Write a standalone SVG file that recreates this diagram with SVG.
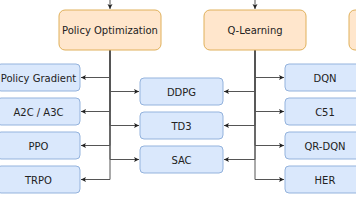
<svg xmlns="http://www.w3.org/2000/svg" width="356" height="200" viewBox="0 0 356 200">
  <style>
    .cat rect { fill: #ffe6cc; stroke: #e0b05a; stroke-width: 1; }
    .leaf rect { fill: #dae8fc; stroke: #94b3dd; stroke-width: 1; }
    text { font-family: "DejaVu Sans", Verdana, sans-serif; font-size: 10px; fill: #222; text-anchor: middle; dominant-baseline: central; }
    .edge { fill: none; stroke: #555; stroke-width: 1; marker-end: url(#arr); }
  </style>
  <defs>
    <marker id="arr" markerUnits="userSpaceOnUse" markerWidth="6" markerHeight="6" refX="5" refY="3" orient="auto">
      <path d="M0,0.5 L5,3 L0,5.5 L1.2,3 Z" fill="#222"/>
    </marker>
  </defs>
  <rect width="356" height="200" fill="#ffffff"/>

  <g id="connectors">
    <path class="edge" d="M110 0 V9"/>
    <path class="edge" d="M255 0 V9"/>
    <path class="edge" d="M110 50 V77.5 H81"/>
    <path class="edge" d="M110 50 V111.5 H81"/>
    <path class="edge" d="M110 50 V145.5 H81"/>
    <path class="edge" d="M110 50 V179.5 H81"/>
    <path class="edge" d="M110 50 V91.5 H139"/>
    <path class="edge" d="M110 50 V125.5 H139"/>
    <path class="edge" d="M110 50 V159.5 H139"/>
    <path class="edge" d="M255 50 V91.5 H224"/>
    <path class="edge" d="M255 50 V125.5 H224"/>
    <path class="edge" d="M255 50 V159.5 H224"/>
    <path class="edge" d="M255 50 V77.5 H284"/>
    <path class="edge" d="M255 50 V111.5 H284"/>
    <path class="edge" d="M255 50 V145.5 H284"/>
    <path class="edge" d="M255 50 V179.5 H284"/>
  </g>

  <g id="policy-optimization" class="cat">
    <rect x="59" y="10" width="102" height="40" rx="6"/>
    <text x="110" y="30.5">Policy Optimization</text>
  </g>
  <g id="q-learning" class="cat">
    <rect x="204" y="10" width="102" height="40" rx="6"/>
    <text x="255" y="30.5">Q-Learning</text>
  </g>
  <g id="third-category" class="cat">
    <rect x="349" y="10" width="102" height="40" rx="6"/>
  </g>

  <g id="policy-gradient" class="leaf">
    <rect x="-3" y="64" width="83" height="27" rx="4"/>
    <text x="38.5" y="78">Policy Gradient</text>
  </g>
  <g id="a2c-a3c" class="leaf">
    <rect x="-3" y="98" width="83" height="27" rx="4"/>
    <text x="38.5" y="112">A2C / A3C</text>
  </g>
  <g id="ppo" class="leaf">
    <rect x="-3" y="132" width="83" height="27" rx="4"/>
    <text x="38.5" y="146">PPO</text>
  </g>
  <g id="trpo" class="leaf">
    <rect x="-3" y="166" width="83" height="27" rx="4"/>
    <text x="38.5" y="180">TRPO</text>
  </g>

  <g id="ddpg" class="leaf">
    <rect x="140" y="78" width="83" height="27" rx="4"/>
    <text x="181.5" y="92">DDPG</text>
  </g>
  <g id="td3" class="leaf">
    <rect x="140" y="112" width="83" height="27" rx="4"/>
    <text x="181.5" y="126">TD3</text>
  </g>
  <g id="sac" class="leaf">
    <rect x="140" y="146" width="83" height="27" rx="4"/>
    <text x="181.5" y="160">SAC</text>
  </g>

  <g id="dqn" class="leaf">
    <rect x="285" y="64" width="83" height="27" rx="4"/>
    <text x="325" y="78">DQN</text>
  </g>
  <g id="c51" class="leaf">
    <rect x="285" y="98" width="83" height="27" rx="4"/>
    <text x="325" y="112">C51</text>
  </g>
  <g id="qr-dqn" class="leaf">
    <rect x="285" y="132" width="83" height="27" rx="4"/>
    <text x="325" y="146">QR-DQN</text>
  </g>
  <g id="her" class="leaf">
    <rect x="285" y="166" width="83" height="27" rx="4"/>
    <text x="325" y="180">HER</text>
  </g>
</svg>
